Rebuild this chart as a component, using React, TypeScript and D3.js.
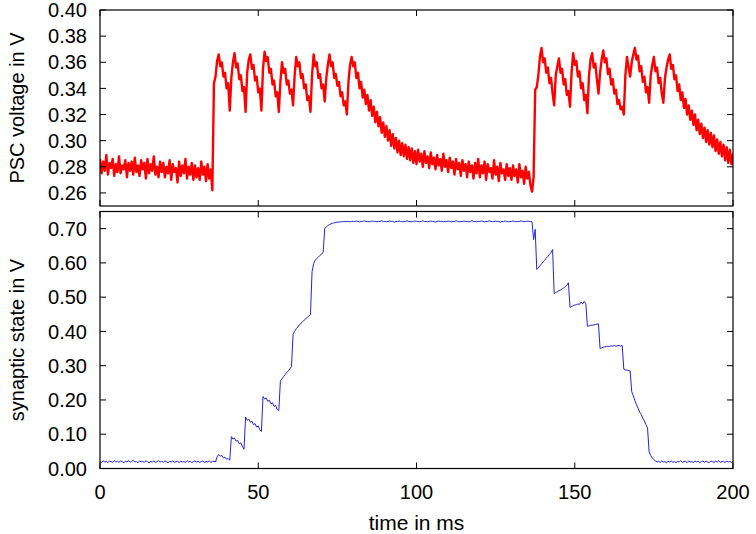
import React from "react";
import * as d3 from "d3";

// sampling step of both traces (ms)
const SAMPLE_STEP_MS = 0.5;

// PSC voltage (V), one sample every 0.5 ms from 0 to 200 ms
const pscVoltage: number[] = [
  0.286,0.275,0.284,0.277,0.289,0.274,0.283,0.279,0.286,0.273,0.282,0.276,0.288,0.275,0.281,0.278,0.285,0.272,0.283,0.277,
  0.284,0.274,0.287,0.276,0.281,0.273,0.285,0.278,0.283,0.271,0.286,0.275,0.282,0.277,0.288,0.274,0.280,0.272,0.284,0.276,
  0.283,0.272,0.280,0.275,0.285,0.270,0.282,0.276,0.279,0.268,0.284,0.273,0.281,0.275,0.286,0.271,0.280,0.274,0.283,0.270,
  0.281,0.272,0.279,0.270,0.284,0.274,0.280,0.269,0.282,0.271,0.278,0.262,0.344,0.349,0.361,0.366,0.357,0.360,0.349,0.352,
  0.340,0.344,0.323,0.348,0.360,0.367,0.356,0.359,0.347,0.350,0.338,0.341,0.322,0.352,0.362,0.366,0.355,0.358,0.346,0.349,
  0.337,0.340,0.323,0.355,0.368,0.361,0.364,0.352,0.355,0.343,0.346,0.334,0.337,0.322,0.345,0.360,0.352,0.355,0.343,0.346,
  0.336,0.339,0.327,0.350,0.364,0.357,0.360,0.348,0.351,0.340,0.343,0.331,0.334,0.322,0.350,0.366,0.357,0.360,0.348,0.351,
  0.340,0.343,0.330,0.348,0.358,0.366,0.357,0.360,0.348,0.351,0.342,0.345,0.334,0.337,0.327,0.330,0.320,0.345,0.358,0.364,
  0.357,0.360,0.348,0.352,0.340,0.345,0.333,0.339,0.328,0.335,0.323,0.331,0.319,0.326,0.314,0.322,0.311,0.318,0.306,0.314,
  0.303,0.311,0.300,0.308,0.296,0.305,0.294,0.302,0.291,0.300,0.289,0.298,0.288,0.297,0.286,0.295,0.285,0.294,0.283,0.292,
  0.282,0.293,0.284,0.290,0.280,0.292,0.283,0.288,0.279,0.291,0.282,0.287,0.278,0.289,0.281,0.286,0.277,0.290,0.280,0.285,
  0.276,0.287,0.279,0.284,0.274,0.286,0.278,0.283,0.273,0.285,0.277,0.282,0.272,0.284,0.276,0.281,0.271,0.283,0.275,0.286,
  0.272,0.281,0.275,0.284,0.270,0.282,0.276,0.279,0.271,0.285,0.274,0.280,0.269,0.283,0.275,0.278,0.270,0.282,0.273,0.279,
  0.270,0.281,0.273,0.278,0.268,0.282,0.272,0.277,0.267,0.280,0.271,0.276,0.266,0.261,0.272,0.339,0.341,0.350,0.364,0.371,
  0.360,0.363,0.352,0.356,0.344,0.348,0.336,0.327,0.350,0.357,0.363,0.352,0.355,0.343,0.347,0.335,0.338,0.326,0.352,0.367,
  0.358,0.361,0.349,0.353,0.340,0.344,0.331,0.335,0.321,0.350,0.362,0.367,0.356,0.359,0.347,0.336,0.352,0.362,0.369,0.360,
  0.363,0.351,0.355,0.343,0.347,0.336,0.339,0.328,0.331,0.324,0.326,0.320,0.350,0.364,0.356,0.349,0.360,0.366,0.371,0.362,
  0.365,0.353,0.357,0.345,0.349,0.337,0.341,0.329,0.350,0.358,0.364,0.353,0.356,0.344,0.348,0.336,0.329,0.348,0.356,0.362,
  0.366,0.355,0.358,0.347,0.350,0.338,0.343,0.331,0.337,0.325,0.332,0.320,0.327,0.316,0.323,0.312,0.320,0.308,0.316,0.305,
  0.313,0.302,0.310,0.299,0.308,0.297,0.306,0.295,0.304,0.292,0.301,0.290,0.299,0.288,0.297,0.285,0.295,0.283,0.293,0.282,
  0.290,
];

// synaptic state (V), one sample every 0.5 ms from 0 to 200 ms
const synapticState: number[] = [
  0.020,0.018,0.022,0.019,0.021,0.017,0.022,0.020,0.018,0.023,0.019,0.021,0.018,0.022,0.020,0.017,0.021,0.019,0.023,0.018,
  0.021,0.024,0.019,0.020,0.017,0.022,0.019,0.021,0.018,0.022,0.020,0.016,0.021,0.019,0.022,0.018,0.020,0.023,0.019,0.021,
  0.018,0.022,0.020,0.017,0.021,0.019,0.022,0.018,0.020,0.021,0.017,0.022,0.019,0.020,0.018,0.023,0.019,0.021,0.017,0.020,
  0.022,0.019,0.021,0.018,0.020,0.022,0.017,0.021,0.019,0.022,0.018,0.020,0.021,0.019,0.034,0.041,0.036,0.038,0.031,0.033,
  0.027,0.029,0.024,0.093,0.086,0.089,0.080,0.082,0.072,0.075,0.064,0.056,0.150,0.141,0.144,0.135,0.138,0.128,0.131,0.121,
  0.124,0.113,0.108,0.210,0.203,0.206,0.196,0.199,0.189,0.192,0.181,0.184,0.172,0.169,0.256,0.262,0.268,0.274,0.280,0.285,
  0.291,0.297,0.391,0.400,0.408,0.413,0.419,0.424,0.428,0.433,0.437,0.441,0.445,0.449,0.574,0.598,0.608,0.613,0.617,0.622,
  0.626,0.630,0.700,0.705,0.709,0.712,0.714,0.716,0.717,0.718,0.719,0.719,0.720,0.720,0.721,0.720,0.721,0.721,0.720,0.721,
  0.721,0.721,0.722,0.721,0.720,0.721,0.721,0.723,0.721,0.721,0.720,0.721,0.722,0.721,0.721,0.720,0.721,0.721,0.723,0.721,
  0.721,0.720,0.721,0.722,0.721,0.721,0.719,0.721,0.721,0.722,0.721,0.720,0.721,0.721,0.723,0.721,0.721,0.720,0.721,0.722,
  0.721,0.721,0.720,0.721,0.723,0.721,0.721,0.720,0.721,0.722,0.721,0.721,0.719,0.721,0.722,0.721,0.721,0.720,0.721,0.721,
  0.722,0.721,0.720,0.721,0.721,0.723,0.721,0.720,0.721,0.721,0.722,0.721,0.721,0.720,0.721,0.723,0.721,0.721,0.720,0.721,
  0.721,0.722,0.721,0.720,0.721,0.721,0.723,0.721,0.720,0.721,0.722,0.721,0.721,0.719,0.721,0.721,0.722,0.721,0.720,0.721,
  0.721,0.722,0.721,0.720,0.721,0.721,0.723,0.721,0.720,0.721,0.722,0.721,0.721,0.720,0.668,0.698,0.581,0.586,0.592,0.597,
  0.603,0.608,0.614,0.619,0.625,0.630,0.639,0.510,0.514,0.516,0.519,0.521,0.524,0.527,0.531,0.535,0.542,0.470,0.473,0.475,
  0.477,0.478,0.480,0.479,0.486,0.480,0.488,0.481,0.415,0.416,0.418,0.418,0.419,0.420,0.421,0.422,0.350,0.352,0.354,0.355,
  0.356,0.357,0.356,0.358,0.357,0.359,0.357,0.358,0.359,0.357,0.359,0.290,0.288,0.287,0.286,0.285,0.224,0.212,0.198,0.186,
  0.176,0.165,0.158,0.147,0.139,0.128,0.118,0.048,0.038,0.031,0.026,0.022,0.019,0.021,0.018,0.022,0.019,0.020,0.017,0.021,
  0.019,0.022,0.018,0.020,0.017,0.021,0.019,0.023,0.018,0.020,0.021,0.017,0.022,0.019,0.020,0.018,0.022,0.019,0.021,0.017,
  0.020,0.022,0.018,0.021,0.019,0.017,0.022,0.020,0.018,0.021,0.019,0.023,0.018,0.020,0.021,0.017,0.022,0.019,0.020,0.018,
  0.021,
];

const timeTicks = [0, 50, 100, 150, 200];
const pscTicks = [0.26, 0.28, 0.3, 0.32, 0.34, 0.36, 0.38, 0.4];
const stateTicks = [0, 0.1, 0.2, 0.3, 0.4, 0.5, 0.6, 0.7];

const FONT = "'Liberation Sans', Arial, Helvetica, sans-serif";

export default function App() {
  const W = 756;
  const H = 534;
  const left = 100;
  const right = 733;
  const top1 = 10;
  const bot1 = 206;
  const top2 = 211.5;
  const bot2 = 468.5;
  const tickLen = 6;

  const x = d3.scaleLinear().domain([0, 200]).range([left, right]);
  const yTop = d3.scaleLinear().domain([0.25, 0.4]).range([bot1, top1]);
  const yBot = d3.scaleLinear().domain([0, 0.75]).range([bot2, top2]);

  const lineTop = d3
    .line<number>()
    .x((_, i) => x(i * SAMPLE_STEP_MS))
    .y((d) => yTop(d));
  const lineBot = d3
    .line<number>()
    .x((_, i) => x(i * SAMPLE_STEP_MS))
    .y((d) => yBot(d));

  const panel = (
    key: string,
    y: d3.ScaleLinear<number, number>,
    yTicks: number[],
    t: number,
    b: number
  ) => (
    <g key={key}>
      {timeTicks.map((v) => (
        <g key={"x" + v}>
          <line x1={x(v)} x2={x(v)} y1={b} y2={b - tickLen} stroke="#000" strokeWidth={1} />
          <line x1={x(v)} x2={x(v)} y1={t} y2={t + tickLen} stroke="#000" strokeWidth={1} />
        </g>
      ))}
      {yTicks.map((v) => (
        <g key={"y" + v}>
          <line x1={left} x2={left + tickLen} y1={y(v)} y2={y(v)} stroke="#000" strokeWidth={1} />
          <line x1={right} x2={right - tickLen} y1={y(v)} y2={y(v)} stroke="#000" strokeWidth={1} />
          <text
            x={left - 13}
            y={y(v)}
            dy="0.36em"
            textAnchor="end"
            fontSize={20}
            fontFamily={FONT}
            fill="#000"
          >
            {d3.format(".2f")(v)}
          </text>
        </g>
      ))}
      <rect x={left} y={t} width={right - left} height={b - t} fill="none" stroke="#000" strokeWidth={1.2} />
    </g>
  );

  return (
    <svg
      width={W}
      height={H}
      viewBox={`0 0 ${W} ${H}`}
      style={{ position: "absolute", left: 0, top: 0, background: "#fff" }}
    >
      <defs>
        <clipPath id="clipTop">
          <rect x={left} y={top1} width={right - left} height={bot1 - top1} />
        </clipPath>
        <clipPath id="clipBot">
          <rect x={left} y={top2} width={right - left} height={bot2 - top2} />
        </clipPath>
      </defs>
      <rect x={0} y={0} width={W} height={H} fill="#fff" />

      <path
        d={lineTop(pscVoltage) || ""}
        fill="none"
        stroke="#ff0000"
        strokeWidth={2.4}
        strokeLinejoin="round"
        clipPath="url(#clipTop)"
      />
      <path
        d={lineBot(synapticState) || ""}
        fill="none"
        stroke="#2424d4"
        strokeWidth={1}
        clipPath="url(#clipBot)"
      />

      {panel("top", yTop, pscTicks, top1, bot1)}
      {panel("bot", yBot, stateTicks, top2, bot2)}

      {timeTicks.map((v) => (
        <text
          key={"xl" + v}
          x={x(v)}
          y={499}
          textAnchor="middle"
          fontSize={20}
          fontFamily={FONT}
          fill="#000"
        >
          {v}
        </text>
      ))}
      <text x={(left + right) / 2} y={530} textAnchor="middle" fontSize={21} fontFamily={FONT} fill="#000">
        time in ms
      </text>
      <text
        transform={`translate(24, ${(top1 + bot1) / 2}) rotate(-90)`}
        textAnchor="middle"
        fontSize={20}
        fontFamily={FONT}
        fill="#000"
      >
        PSC voltage in V
      </text>
      <text
        transform={`translate(24, ${(top2 + bot2) / 2}) rotate(-90)`}
        textAnchor="middle"
        fontSize={20}
        fontFamily={FONT}
        fill="#000"
      >
        synaptic state in V
      </text>
    </svg>
  );
}
